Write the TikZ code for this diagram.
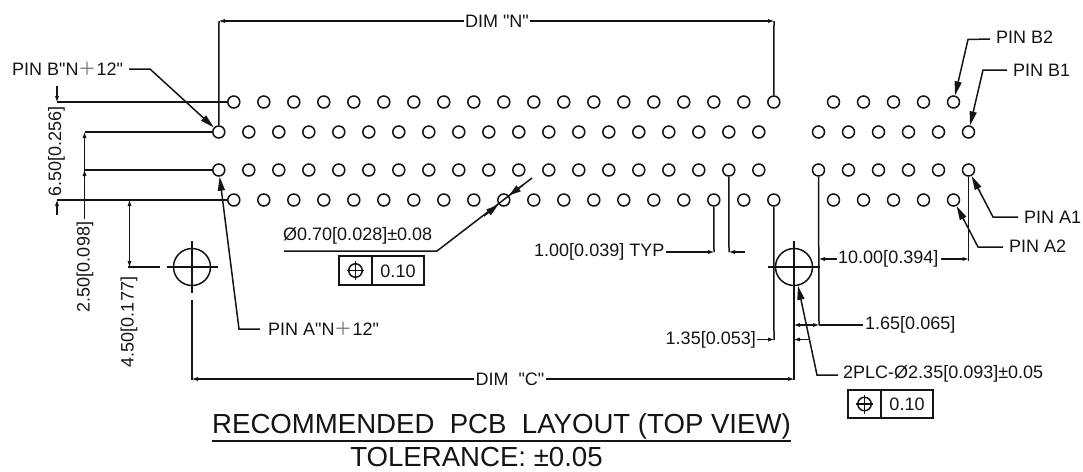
\documentclass[tikz,border=0pt]{standalone}
\usepackage{fontspec}
\newfontfamily\lsf{Liberation Sans}
\newfontfamily\cjkf{Noto Sans CJK SC}
\usetikzlibrary{arrows.meta}
\newcommand{\thinplus}{\textcolor{black!55}{{\cjkf\char"FF0B}}}
\tikzset{
  ln/.style={line width=1.5pt,draw=black!92},
  hole/.style={circle,draw=black!92,line width=1.5pt,minimum size=12pt,inner sep=0pt},
  mhole/.style={circle,draw=black!92,line width=1.5pt,minimum size=37pt,inner sep=0pt},
  sym/.style={circle,draw=black!92,line width=1.5pt,minimum size=13.5pt,inner sep=0pt},
  lbl/.style={inner sep=0pt,font=\lsf\fontsize{18}{20}\selectfont,text=black!92},
  big/.style={inner sep=0pt,font=\lsf\fontsize{27.6}{29}\selectfont,text=black!92},
  ldr/.style={ln,-{Stealth[length=14pt,width=7pt,inset=0pt]}},
  dm/.style={ln,-{Stealth[length=6pt,width=3.4pt,inset=0pt]}},
  tip/.style={ln,-{Stealth[length=12pt,width=7pt,inset=0pt]}},
}
\begin{document}
\begin{tikzpicture}[x=1pt,y=-1pt]
\useasboundingbox (0,0) rectangle (1083,471);
% holes
\foreach \i in {0,...,18} {
  \node[hole] (Ra\i) at ({233.8+\i*30},102) {};
  \node[hole] (Rb\i) at ({218.8+\i*30},132) {};
  \node[hole] (Rc\i) at ({218.8+\i*30},170) {};
  \node[hole] (Rd\i) at ({233.8+\i*30},200) {};
}
\foreach \i in {0,...,4} {
  \node[hole] (Ea\i) at ({833.5+\i*30},102) {};
  \node[hole] (Ed\i) at ({833.5+\i*30},200) {};
}
\foreach \i in {0,...,5} {
  \node[hole] (Eb\i) at ({818.5+\i*30},132) {};
  \node[hole] (Ec\i) at ({818.5+\i*30},170) {};
}
% labels
\node[lbl] (dimN) at (497,21) {DIM "N"};
\node[lbl] (dimC) at (510,379) {DIM\ \ "C"};
\node[lbl,anchor=west] (pinBN) at (12,69) {PIN B"N\thinplus12"};
\node[lbl,anchor=west] (pinAN) at (268,329) {PIN A"N\thinplus12"};
\node[lbl,anchor=west] (pinB2) at (996,37) {PIN B2};
\node[lbl,anchor=west] (pinB1) at (1013,70) {PIN B1};
\node[lbl,anchor=west] (pinA1) at (1024,217) {PIN A1};
\node[lbl,anchor=west] (pinA2) at (1009,246) {PIN A2};
\node[lbl,rotate=90] (d650) at (56.5,151.5) {6.50[0.256]};
\node[lbl,rotate=90] (d250) at (85,267) {2.50[0.098]};
\node[lbl,rotate=90] (d450) at (129,322) {4.50[0.177]};
\node[lbl,anchor=west] (dia) at (283,236) {Ø0.70[0.028]±0.08};
\node[lbl,anchor=west] (typ) at (534,252) {1.00[0.039] TYP};
\node[lbl,anchor=west] (d1000) at (838,259) {10.00[0.394]};
\node[lbl,anchor=west] (d165) at (865,324.5) {1.65[0.065]};
\node[lbl,anchor=east] (d135) at (756,339.5) {1.35[0.053]};
\node[lbl,anchor=west] (plc) at (843,374) {2PLC-Ø2.35[0.093]±0.05};
\node[big] (title) at (501.5,426.5) {RECOMMENDED\ \ PCB\ \ LAYOUT (TOP VIEW)};
\node[big] (tol) at (476.5,456.5) {TOLERANCE: ±0.05};
\draw[ln] (212,441) -- (791,441);
% dim N
\draw[ln] (Rb0.north) -- (219,21);
\draw[ln] (Ra18.north) -- (774,21);
\draw[dm] (dimN.west) ++(-1,0) -- (219,21);
\draw[dm] (dimN.east) ++(1,0) -- (774,21);
% 6.50 / extension
\draw[ln] (Ra0.west) -- (57,102);
\draw[ln] (Rd0.west) -- (57,200);
\draw[dm] (57,86) -- (57,102);
\draw[dm] (57,215) -- (57,200);
% 2.50
\draw[ln] (Rb0.west) -- (84.5,132);
\draw[ln] (Rc0.west) -- (84.5,170);
\draw[ln] (84.5,170) -- (84.5,218.5);
\draw[dm] (84.5,170) -- (84.5,132);
\draw[dm] (84.5,190) -- (84.5,170);
% 4.50
\draw[dm] (129.5,240) -- (129.5,200);
\draw[dm] (129.5,240) -- (129.5,267);
\draw[ln] (128,267) -- (160,267);
% left mount hole
\node[mhole] (hL) at (192,267) {};
\draw[ln] (167,267) -- (218,267);
\draw[ln] (192,241) -- (192,293);
\draw[ln] (192,300) -- (192,380);
% right mount hole
\node[mhole] (hR) at (794,267) {};
\draw[ln] (768,267) -- (820,267);
\draw[ln] (794,241) -- (794,380);
% dim C
\draw[dm] (dimC.west) ++(-1,0) -- (192,379);
\draw[dm] (dimC.east) ++(1,0) -- (794,379);
% pin leaders
\draw[ldr] (pinBN.east) ++(6,0) -- (150,69) -- (Rb0);
\draw[ldr] (pinAN.west) ++(-8,0) -- (239,329) -- (Rc0);
\draw[ldr] (pinB2.west) ++(-6,2) -- (968,39.5) -- (Ea4);
\draw[ldr] (pinB1.west) ++(-6,0) -- (983,70) -- (Eb5);
\draw[ldr] (pinA1.west) ++(-6,0) -- (993,217) -- (Ec5);
\draw[ldr] (pinA2.west) ++(-6,1) -- (978,247) -- (Ed4);
\draw[ldr] (plc.west) ++(-5,1) -- (817,375) -- (hR);
% diameter 0.70
\draw[ln] (284,251) -- (437,251) -- (532,178);
\draw[tip] (484,216) -- (498,205);
\draw[tip] (523,185) -- (509,195.5);
% 1.00 TYP
\draw[ln] (Rd16.south) -- (714,252);
\draw[ln] (Rc17.south) -- (729,252);
\draw[dm] (typ.east) ++(2,0) -- (714,252);
\draw[dm] (745,252) -- (729,252);
% 10.00
\draw[ln] (Ec0.south) -- (819,325);
\draw[ln] (Ec5.south) -- (968.5,261);
\draw[dm] (d1000.west) ++(-1,0) -- (819,259);
\draw[dm] (d1000.east) ++(2,0) -- (968.5,259);
% 1.65
\draw[ln] (819,325) -- (863,325);
\draw[dm] (806,325) -- (819,325);
\draw[dm] (806,325) -- (794,325);
% 1.35
\draw[ln] (Rd18.south) -- (774,340);
\draw[dm] (d135.east) ++(1,0) -- (774,339.5);
\draw[dm] (810,339.5) -- (794,339.5);
% feature control frames
\draw[ln] (339,256) rectangle (424,285);
\draw[ln] (372,256) -- (372,285);
\node[lbl] (v1) at (398,271) {0.10};
\node[sym] (p1) at (355.5,270.5) {};
\draw[ln] (355.5,261) -- (355.5,280);
\draw[ln] (347,270.5) -- (364,270.5);
\draw[ln] (848,390) rectangle (933,418);
\draw[ln] (881,390) -- (881,418);
\node[lbl] (v2) at (907,404) {0.10};
\node[sym] (p2) at (864.5,404) {};
\draw[ln] (864.5,394.5) -- (864.5,413.5);
\draw[ln] (856,404) -- (873,404);
\end{tikzpicture}
\end{document}
